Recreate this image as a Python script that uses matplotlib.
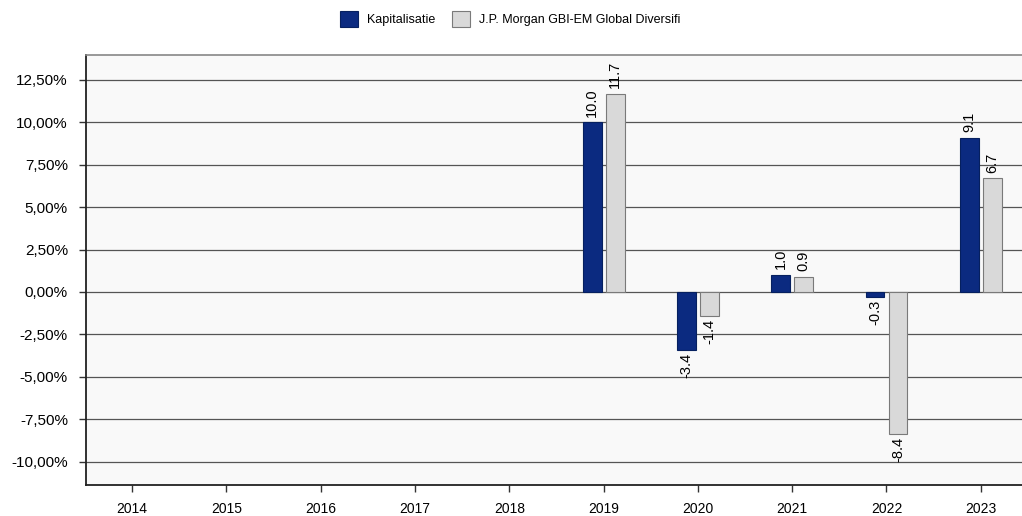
import numpy as np
import matplotlib
matplotlib.use("Agg")
import matplotlib.pyplot as plt
from matplotlib.ticker import FuncFormatter

plt.rcParams['font.family'] = ['Liberation Sans', 'DejaVu Sans']

years = ["2014", "2015", "2016", "2017", "2018", "2019", "2020", "2021", "2022", "2023"]
kapitalisatie = [np.nan, np.nan, np.nan, np.nan, np.nan, 10.0, -3.4, 1.0, -0.3, 9.1]
benchmark = [np.nan, np.nan, np.nan, np.nan, np.nan, 11.7, -1.4, 0.9, -8.4, 6.7]
series_names = ["Kapitalisatie", "J.P. Morgan GBI-EM Global Diversifi"]
yticks = [-10.0, -7.5, -5.0, -2.5, 0.0, 2.5, 5.0, 7.5, 10.0, 12.5]

blue = "#0b2a80"
grey = "#d9d9d9"

fig = plt.figure(figsize=(10.22, 5.16), dpi=100)
ax = fig.add_axes([0.0841, 0.0601, 0.9217, 0.8333])
ax.set_facecolor("#f9f9f9")

x = np.arange(len(years))
w = 0.2
off = 0.122
b1 = ax.bar(x - off, kapitalisatie, w, color=blue, edgecolor="#06205f", linewidth=0.8,
            label=series_names[0], zorder=3)
b2 = ax.bar(x + off, benchmark, w, color=grey, edgecolor="#7a7a7a", linewidth=0.8,
            label=series_names[1], zorder=3)

# value labels, rotated, above positive bars and below negative ones
for bars, vals in ((b1, kapitalisatie), (b2, benchmark)):
    for rect, v in zip(bars, vals):
        if np.isnan(v):
            continue
        cx = rect.get_x() + rect.get_width() / 2
        if v >= 0:
            ax.annotate(f"{v:.1f}", (cx, v), xytext=(0, 4), textcoords="offset points",
                        rotation=90, ha="center", va="bottom", fontsize=10.5, zorder=4)
        else:
            ax.annotate(f"{v:.1f}", (cx, v), xytext=(0, -2), textcoords="offset points",
                        rotation=90, ha="center", va="top", fontsize=10.5, zorder=4)

ax.set_xlim(-0.49, 9.5)
ax.set_ylim(-11.38, 13.97)
ax.set_yticks(yticks)
ax.yaxis.set_major_formatter(FuncFormatter(lambda v, p: f"{v:.2f}%".replace(".", ",")))
ax.set_xticks(x)
ax.set_xticklabels(years)
ax.grid(axis="y", color="#555555", linewidth=0.9, zorder=1)
ax.set_axisbelow(True)

ax.tick_params(axis="y", labelsize=11, length=5, width=1, color="#333333", pad=8)
ax.tick_params(axis="x", labelsize=10, length=5, width=1, color="#333333", pad=7)
ax.spines["left"].set_color("#222222")
ax.spines["left"].set_linewidth(1.3)
ax.spines["bottom"].set_color("#222222")
ax.spines["bottom"].set_linewidth(1.3)
ax.spines["top"].set_color("#888888")
ax.spines["top"].set_linewidth(1.2)
ax.spines["right"].set_visible(False)

fig.legend(handles=[b1, b2], loc="upper center", bbox_to_anchor=(0.499, 1.0), ncol=2,
           frameon=False, fontsize=9, handlelength=1.5, handleheight=1.6,
           columnspacing=1.3, handletextpad=0.7)

fig.savefig("out.png", dpi=100, facecolor="white")
